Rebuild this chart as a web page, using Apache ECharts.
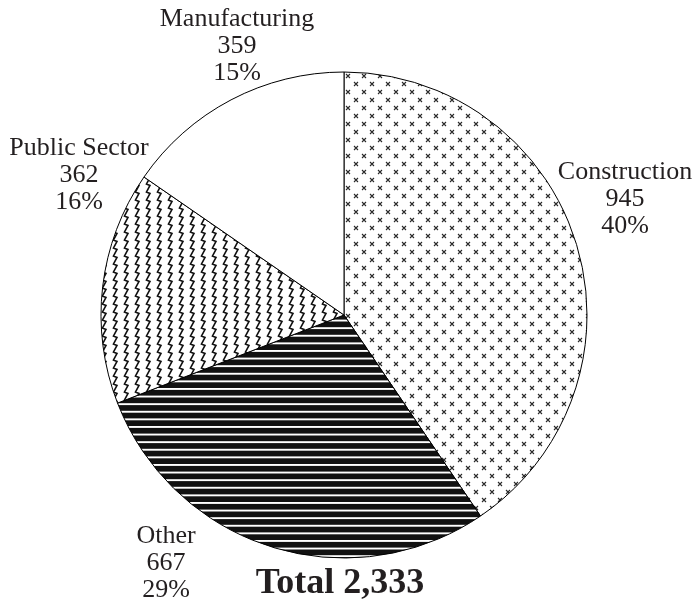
<!DOCTYPE html>
<html>
<head>
<meta charset="utf-8">
<script src="https://cdn.jsdelivr.net/npm/echarts@6/dist/echarts.min.js"></script>
<style>
  html, body { margin: 0; padding: 0; background: #fff; }
  #chart { width: 698px; height: 604px; }
</style>
</head>
<body>
<div id="chart"></div>
<script>
// Employment by sector, clockwise from 12 o'clock
const categories = ['Construction', 'Other', 'Public Sector', 'Manufacturing'];
const values = [945, 667, 362, 359];

// Where each sector's three-line label is centred
const labelAnchors = [[625, 199], [166, 563], [79, 175], [237, 46]];

const INK = '#231f20';
const FONT = '"Liberation Serif", "Times New Roman", serif';

function makeTile(w, h, draw) {
  const c = document.createElement('canvas');
  c.width = w; c.height = h;
  const ctx = c.getContext('2d');
  draw(ctx, w, h);
  return c;
}

// Staggered small crosses
const crossTile = makeTile(16, 16, (ctx) => {
  ctx.fillStyle = '#fff';
  ctx.fillRect(0, 0, 16, 16);
  ctx.strokeStyle = '#2a2a2a';
  ctx.lineWidth = 1.1;
  [[4, 4], [12, 12]].forEach(([x, y]) => {
    ctx.beginPath();
    ctx.moveTo(x - 2, y - 2); ctx.lineTo(x + 2, y + 2);
    ctx.moveTo(x + 2, y - 2); ctx.lineTo(x - 2, y + 2);
    ctx.stroke();
  });
});

// Heavy horizontal stripes
const stripeTile = makeTile(16, 38, (ctx) => {
  ctx.fillStyle = '#111';
  ctx.fillRect(0, 0, 16, 38);
  ctx.fillStyle = '#fff';
  for (let i = 0; i < 5; i++) {
    ctx.fillRect(0, i * 7.6 + 0.4, 16, 1.9);
  }
});

// Vertical zigzag lines
const ZW = 11, ZH = 8;
const zigTile = makeTile(ZW, ZH, (ctx) => {
  ctx.fillStyle = '#fff';
  ctx.fillRect(0, 0, ZW, ZH);
  ctx.strokeStyle = '#111';
  ctx.lineWidth = 1.6;
  ctx.lineJoin = 'miter';
  for (const dx of [-ZW, 0, ZW]) {
    ctx.beginPath();
    ctx.moveTo(3.5 + dx, -ZH);
    for (let k = -1; k <= 1; k++) {
      const oy = k * ZH;
      ctx.lineTo(7 + dx, oy + 1.5);
      ctx.lineTo(3.5 + dx, oy + ZH);
    }
    ctx.stroke();
  }
});

const fills = [
  { image: crossTile, repeat: 'repeat' },
  { image: stripeTile, repeat: 'repeat' },
  { image: zigTile, repeat: 'repeat' },
  '#ffffff'
];

const total = values.reduce((a, b) => a + b, 0);

const chart = echarts.init(document.getElementById('chart'), null, { renderer: 'canvas' });
chart.setOption({
  backgroundColor: '#fff',
  animation: false,
  graphic: [{
    type: 'text',
    x: 340,
    y: 584,
    style: {
      text: 'Total ' + total.toLocaleString('en-US'),
      font: 'bold 36px ' + FONT,
      fill: INK,
      textAlign: 'center',
      textVerticalAlign: 'middle'
    }
  }],
  series: [{
    type: 'pie',
    center: [344, 315],
    radius: 243,
    startAngle: 90,
    clockwise: true,
    percentPrecision: 0,
    avoidLabelOverlap: false,
    itemStyle: { borderColor: '#000', borderWidth: 1 },
    label: {
      show: true,
      position: 'outside',
      formatter: '{b}\n{c}\n{d}%',
      color: INK,
      fontFamily: FONT,
      fontSize: 26,
      lineHeight: 27,
      align: 'center'
    },
    labelLine: { show: false },
    labelLayout: (p) => ({
      x: labelAnchors[p.dataIndex][0],
      y: labelAnchors[p.dataIndex][1],
      align: 'center',
      verticalAlign: 'middle'
    }),
    emphasis: { disabled: true },
    data: categories.map((name, i) => ({
      name,
      value: values[i],
      itemStyle: { color: fills[i] }
    }))
  }]
});
</script>
</body>
</html>
